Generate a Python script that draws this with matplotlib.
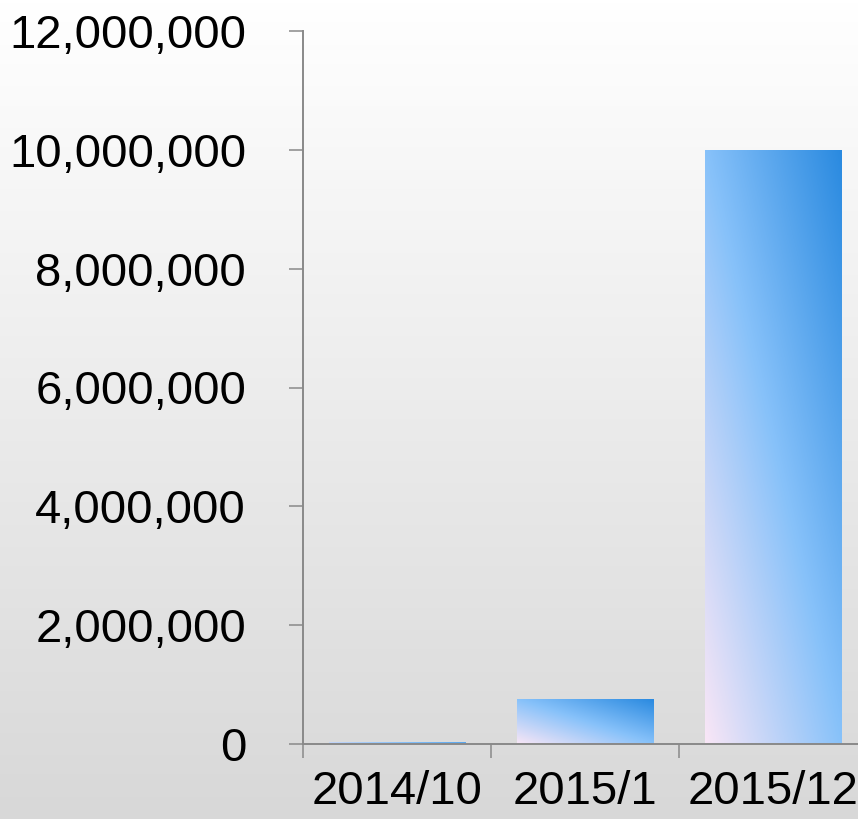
import numpy as np
import matplotlib.pyplot as plt
from matplotlib.colors import LinearSegmentedColormap
from matplotlib.ticker import FuncFormatter, FixedLocator

# data
categories = ['2014/10', '2015/1', '2015/12']
values = [40000, 750000, 10000000]
y_ticks = [0, 2000000, 4000000, 6000000, 8000000, 10000000, 12000000]

FONT_SIZE = 34
AXIS_COLOR = '#898989'

plt.rcParams['font.family'] = ['Liberation Sans', 'DejaVu Sans']

W, H = 858, 819
fig = plt.figure(figsize=(W / 100, H / 100), dpi=100)

# vertical background gradient over the whole figure
bg = fig.add_axes([0, 0, 1, 1], zorder=-1)
grad = np.linspace(0, 1, 256).reshape(-1, 1)
bg_cmap = LinearSegmentedColormap.from_list('bg', ['#ffffff', '#d8d8d8'])
bg.imshow(grad, cmap=bg_cmap, aspect='auto', extent=[0, 1, 0, 1], origin='upper')
bg.set_axis_off()

# main axes, right side runs a bit past the figure edge like the original
left, bottom = 303 / W, (H - 744) / H
width, height = 564 / W, 713 / H
ax = fig.add_axes([left, bottom, width, height])
ax.patch.set_alpha(0)

x = np.arange(len(categories))
bars = ax.bar(x, values, width=0.725, facecolor='none', edgecolor='none', zorder=2)

# diagonal gradient inside each bar (pinkish bottom-left -> blue top-right)
bar_cmap = LinearSegmentedColormap.from_list(
    'bar', [(0.0, '#f9e6f6'), (0.5, '#88c2fa'), (1.0, '#2a8ae0')])
u, v = np.meshgrid(np.linspace(0, 1, 200), np.linspace(0, 1, 200))
t = (u + v) / 2
for b in bars:
    x0, y0 = b.get_x(), b.get_y()
    im = ax.imshow(t, cmap=bar_cmap, vmin=0, vmax=1, origin='lower', aspect='auto',
                   extent=[x0, x0 + b.get_width(), y0, y0 + b.get_height()], zorder=2)
    im.set_clip_path(b)

ax.set_xlim(-0.5, len(categories) - 0.5)
ax.set_ylim(0, 12000000)

ax.set_yticks(y_ticks)
ax.yaxis.set_major_formatter(FuncFormatter(lambda val, pos: f'{int(val):,}'))

# ticks at category edges, labels at category centres
ax.xaxis.set_major_locator(FixedLocator(np.arange(len(categories) + 1) - 0.5))
ax.xaxis.set_minor_locator(FixedLocator(x))
ax.set_xticklabels([], minor=False)
ax.set_xticklabels(categories, minor=True)

ax.tick_params(axis='y', direction='out', length=10, width=1.1, color=AXIS_COLOR,
               labelsize=FONT_SIZE, pad=31)
ax.tick_params(axis='x', which='major', direction='out', length=10, width=1.1,
               color=AXIS_COLOR)
ax.tick_params(axis='x', which='minor', length=0, labelsize=FONT_SIZE, pad=19)

for side in ['top', 'right']:
    ax.spines[side].set_visible(False)
for side in ['left', 'bottom']:
    ax.spines[side].set_color(AXIS_COLOR)
    ax.spines[side].set_linewidth(1.4)

plt.savefig('out.png', dpi=100)
